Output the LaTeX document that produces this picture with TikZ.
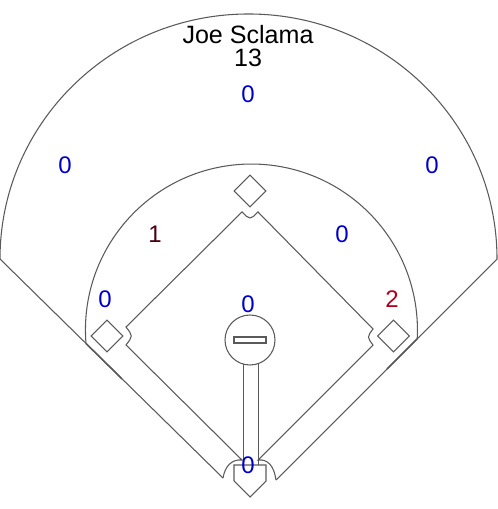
\documentclass[tikz,border=0pt]{standalone}
\usepackage{fontspec}
\setmainfont{Liberation Sans}
\usetikzlibrary{
  positioning,
  shapes.geometric,
}
\definecolor{fieldline}{RGB}{90, 90, 90}
\definecolor{zerocount}{RGB}{0, 0, 204}
\definecolor{lowcount}{RGB}{74, 0, 16}
\definecolor{highcount}{RGB}{176, 0, 32}
\tikzset{
  field/.style={draw=fieldline,line width=0.8pt},
  bagbox/.style={diamond,field,inner sep=0,minimum width=24pt,minimum height=24pt},
  count/.style={font=\fontsize{18}{18}\selectfont,text=zerocount,inner sep=0},
  title/.style={font=\fontsize{18.8}{18.8}\selectfont,text=black,inner sep=0},
}
\begin{document}
\begin{tikzpicture}[x=0.75pt,y=0.75pt]
	\useasboundingbox (0,0) rectangle (497,509);

	\coordinate (foulLa) at (0,250);
	\coordinate (foulLb) at (223,31);
	\coordinate (foulRa) at (497,250);
	\coordinate (foulRb) at (276,29);
	\coordinate (foulLc) at (86,165.5);
	\coordinate (foulLd) at (122,130.1);
	\coordinate (foulRc) at (417,170);
	\coordinate (foulRd) at (387,140);

	\coordinate (homeL) at (242,49);
	\coordinate (homeR) at (258,49);
	\coordinate (firstA) at (373,164);
	\coordinate (firstB) at (373,180);
	\coordinate (secondR) at (258,297);
	\coordinate (secondL) at (242,297);
	\coordinate (thirdB) at (126,182);
	\coordinate (thirdA) at (126,164);

	% outfield and foul lines
	\draw[field] (foulLb) -- (foulLa) arc[start angle=180,end angle=0,x radius=248.5,y radius=245] -- (foulRb);
	\draw[field] (foulLc) arc[start angle=184.66,end angle=-3.1,radius=166];
	\draw[field,line width=1.2pt] (foulLc) -- (foulLd);
	\draw[field,line width=1.2pt] (foulRc) -- (foulRd);

	% infield
	\draw[field] (foulLb) .. controls (225,43) and (232,50) .. (homeL) -- (thirdA) .. controls (133,173) .. (thirdB) -- (secondL)
		.. controls (250,289) .. (secondR) -- (firstB) .. controls (367,172) .. (firstA) -- (homeR) .. controls (268,50) and (274,43) .. (foulRb);

	% bases
	\node[bagbox] (base2) at (250,318) {};
	\node[bagbox] (base3) at (107,173) {};
	\node[bagbox] (base1) at (393.5,173) {};

	% mound and path to the plate
	\node[circle,field,inner sep=0,minimum size=37.5pt] (mound) at (250,169) {};
	\node[rectangle,field,inner sep=0,minimum width=24pt,minimum height=4.5pt] (rubber) at (250,169) {};
	\coordinate (stripLa) at (243.5,145);
	\coordinate (stripLb) at (243.5,44);
	\coordinate (stripRa) at (258.5,145);
	\coordinate (stripRb) at (258.5,44);
	\draw[field] (stripLa) -- (stripLb);
	\draw[field] (stripRa) -- (stripRb);

	% plate
	\coordinate (plateA) at (234,44);
	\coordinate (plateB) at (266,44);
	\coordinate (plateC) at (266,28);
	\coordinate (plateD) at (250,12);
	\coordinate (plateE) at (234,28);
	\draw[field] (plateA) -- (plateB) -- (plateC) -- (plateD) -- (plateE) -- cycle;

	% labels
	\node[title] (name) at (248,474) {Joe Sclama};
	\node[title] (total) [below=17pt of name.center,anchor=center] {13};
	\node[count] (cf) at (248,415) {0};
	\node[count] (lf) at (65,344) {0};
	\node[count] (rf) at (432,344) {0};
	\node[count,text=lowcount] (ss) at (155,275) {1};
	\node[count] (sb) at (342,275) {0};
	\node[count] (tb) at (105,210) {0};
	\node[count,text=highcount] (fb) at (392,210) {2};
	\node[count] (pitcher) at (248,205) {0};
	\node[count] (catcher) at (248,44) {0};
\end{tikzpicture}
\end{document}
